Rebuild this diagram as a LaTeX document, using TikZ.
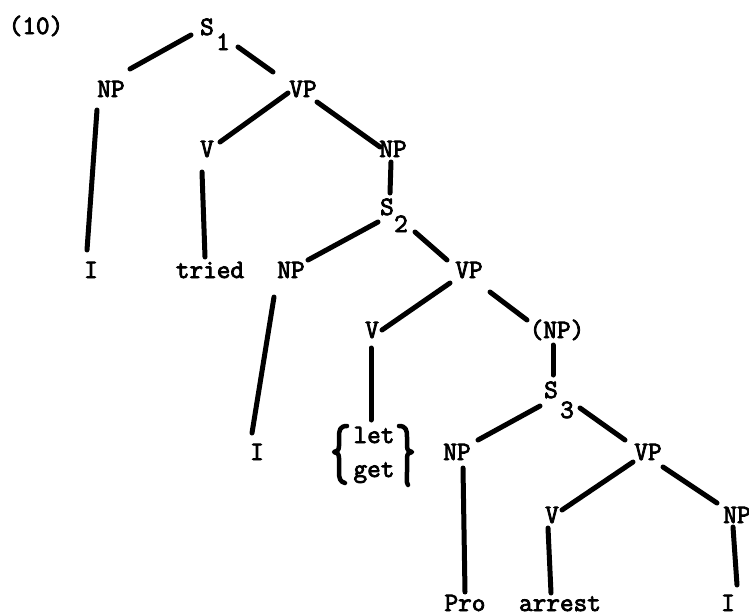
\documentclass[tikz,border=0pt]{standalone}
\usepackage{fontspec}
\newfontfamily\twfont{Latin Modern Mono}[BoldFont={Latin Modern Mono},BoldFeatures={FakeBold=3}]
\begin{document}
\begin{tikzpicture}[x=1pt,y=-1pt,
  lab/.style={inner sep=0pt,anchor=base,font=\fontsize{26.5}{30}\twfont\bfseries\selectfont},
  br/.style={line width=5pt,line cap=round},
  brace/.style={line width=4.5pt,line cap=round,line join=round}]
\useasboundingbox (0,0) rectangle (749,613);
% labels
\node[lab] (ten) at (36,34) {(10)};
\node[lab] (s1) at (207,35) {S};
\node[lab] (s1sub) at (223,50) {1};
\node[lab] (np1) at (111,97) {NP};
\node[lab] (vp1) at (303,97) {VP};
\node[lab] (v1) at (207,157) {V};
\node[lab] (np2) at (393,157) {NP};
\node[lab] (i1) at (91,278) {I};
\node[lab] (tried) at (210,278) {tried};
\node[lab] (s2) at (387,215) {S};
\node[lab] (s2sub) at (401,232) {2};
\node[lab] (np3) at (291,278) {NP};
\node[lab] (vp2) at (469,278) {VP};
\node[lab] (v2) at (372,338) {V};
\node[lab] (pnp) at (557,338) {(NP)};
\node[lab] (i2) at (257,460) {I};
\node[lab] (let) at (374,443) {let};
\node[lab] (get) at (374,477) {get};
\node[lab] (s3) at (551,398) {S};
\node[lab] (s3sub) at (567,418) {3};
\node[lab] (np4) at (457,460) {NP};
\node[lab] (vp3) at (648,460) {VP};
\node[lab] (v3) at (552,523) {V};
\node[lab] (np5) at (737,523) {NP};
\node[lab] (pro) at (465,611) {Pro};
\node[lab] (arrest) at (560,611) {arrest};
\node[lab] (i3) at (728,611) {I};
% branches
\draw[br] ([shift={(-16,0)}]s1.base) -- ([shift={(19,-28)}]np1.base);
\draw[br] ([shift={(31,12)}]s1.base) -- ([shift={(-30,-25)}]vp1.base);
\draw[br] ([shift={(-14,13)}]np1.base) -- ([shift={(-4,-28)}]i1.base);
\draw[br] ([shift={(-15,-4)}]vp1.base) -- ([shift={(13,-15)}]v1.base);
\draw[br] ([shift={(14,5)}]vp1.base) -- ([shift={(-13,-10)}]np2.base);
\draw[br] ([shift={(-5,15)}]v1.base) -- ([shift={(-5,-21)}]tried.base);
\draw[br] ([shift={(-2,5)}]np2.base) -- ([shift={(3,-22)}]s2.base);
\draw[br] ([shift={(-9,7)}]s2.base) -- ([shift={(17,-18)}]np3.base);
\draw[br] ([shift={(28,17)}]s2.base) -- ([shift={(-22,-18)}]vp2.base);
\draw[br] ([shift={(-17,19)}]np3.base) -- ([shift={(-5,-27)}]i2.base);
\draw[br] ([shift={(-19,5)}]vp2.base) -- ([shift={(10,-8)}]v2.base);
\draw[br] ([shift={(21,14)}]vp2.base) -- ([shift={(-30,-18)}]pnp.base);
\draw[br] ([shift={(-1,10)}]v2.base) -- ([shift={(-3,-23)}]let.base);
\draw[br] ([shift={(-4,7)}]pnp.base) -- ([shift={(2,-23)}]s3.base);
\draw[br] ([shift={(-11,8)}]s3.base) -- ([shift={(21,-20)}]np4.base);
\draw[br] ([shift={(29,10)}]s3.base) -- ([shift={(-23,-20)}]vp3.base);
\draw[br] ([shift={(6,8)}]np4.base) -- ([shift={(0,-19)}]pro.base);
\draw[br] ([shift={(-15,2)}]vp3.base) -- ([shift={(10,-13)}]v3.base);
\draw[br] ([shift={(15,7)}]vp3.base) -- ([shift={(-20,-20)}]np5.base);
\draw[br] ([shift={(-4,5)}]v3.base) -- ([shift={(-9,-18)}]arrest.base);
\draw[br] ([shift={(-4,4)}]np5.base) -- ([shift={(9,-26)}]i3.base);
% braces
\draw[brace] (347,426) .. controls (340,426) and (339,430) .. (339,437) -- (339,446)
  .. controls (339,450) and (337,452) .. (334,452)
  .. controls (337,452) and (339,454) .. (339,458) -- (339,472)
  .. controls (339,478) and (340,482) .. (345,483);
\draw[brace] (399,426) .. controls (406,426) and (407,430) .. (407,437) -- (407,446)
  .. controls (407,450) and (409,452) .. (412,452)
  .. controls (409,452) and (407,454) .. (407,458) -- (407,472)
  .. controls (407,478) and (406,482) .. (408,485);
\end{tikzpicture}
\end{document}
